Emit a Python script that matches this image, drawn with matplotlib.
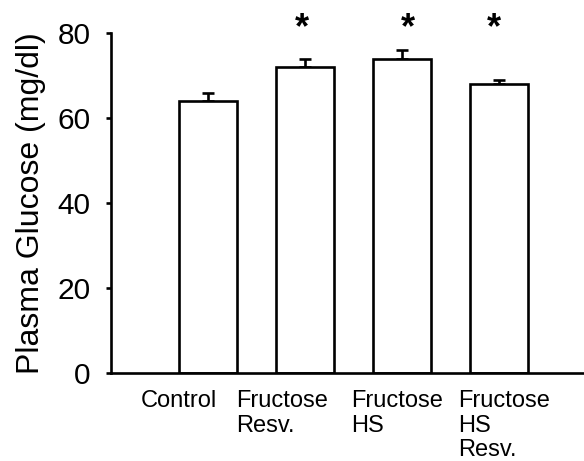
import matplotlib
matplotlib.use("Agg")
import matplotlib.pyplot as plt
from matplotlib.transforms import offset_copy, blended_transform_factory

plt.rcParams['font.family'] = ['Liberation Sans', 'DejaVu Sans']

categories = ["Control", "Fructose\nResv.", "Fructose\nHS", "Fructose\nHS\nResv."]
means = [64, 72, 74, 68]
errors = [2, 2, 2, 1]
significant = [False, True, True, True]
yticks = [0, 20, 40, 60, 80]

# label left-edge offsets (px) relative to bar center
label_dx = [-68, -69, -51, -41]
star_dx = [0, -3, 6, -5]

fig = plt.figure(figsize=(5.84, 4.61), dpi=100)
ax = fig.add_axes([0.1896, 0.1909, 1 - 0.1896, 0.7375])

lw = 1.9
x = list(range(len(categories)))
ax.bar(x, means, width=0.6, color='white', edgecolor='black', linewidth=lw, zorder=2)
ax.errorbar(x, means, yerr=[[0] * len(errors), errors], fmt='none', ecolor='black',
            elinewidth=lw, capsize=4.5, capthick=lw, zorder=1)

ax.set_xlim(-1.006, 3.873)
ax.set_ylim(0, 80)
ax.set_yticks(yticks)
ax.set_xticks([])
ax.tick_params(axis='y', labelsize=21.5, length=3.5, width=lw, pad=11, direction='out')
for s in ['top', 'right']:
    ax.spines[s].set_visible(False)
for s in ['left', 'bottom']:
    ax.spines[s].set_linewidth(lw)
ax.set_ylabel("Plasma Glucose (mg/dl)", fontsize=23, labelpad=8)

trans = blended_transform_factory(ax.transData, ax.transAxes)
for xi, lab, dx in zip(x, categories, label_dx):
    t = offset_copy(trans, fig=fig, x=dx, y=-17, units='dots')
    ax.text(xi, 0, lab, transform=t, ha='left', va='top', fontsize=17,
            multialignment='left', linespacing=1.15, clip_on=False)

for xi, sig, dx in zip(x, significant, star_dx):
    if sig:
        t = offset_copy(ax.transData, fig=fig, x=dx, y=0, units='dots')
        ax.text(xi, 78.7, "*", transform=t, ha='center', va='baseline', fontsize=26,
                fontweight='bold', clip_on=False)

fig.savefig("out.png", dpi=100)
